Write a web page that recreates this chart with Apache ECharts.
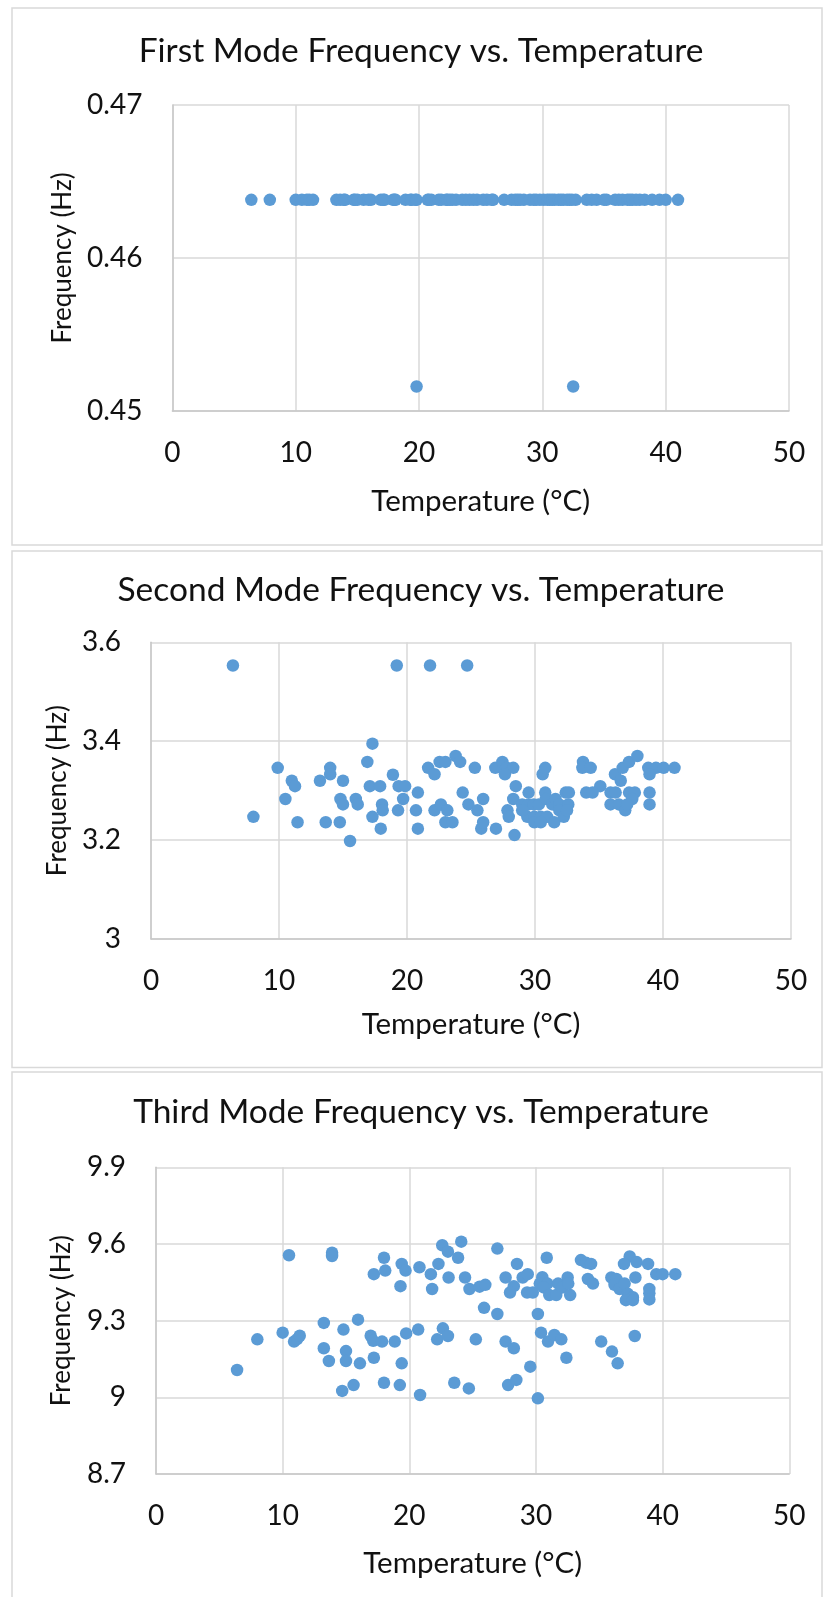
<!DOCTYPE html>
<html>
<head>
<meta charset="utf-8">
<title>Mode Frequency vs. Temperature</title>
<script src="https://cdn.jsdelivr.net/npm/echarts@6/dist/echarts.min.js"></script>
<style>
  html, body { margin: 0; padding: 0; background: #ffffff; }
  #main { width: 824px; height: 1597px; }
</style>
</head>
<body>
<div id="main"></div>
<script>
// Panel titles and axis names
const panelTitles = [
  'First Mode Frequency vs. Temperature',
  'Second Mode Frequency vs. Temperature',
  'Third Mode Frequency vs. Temperature'
];
const xAxisName = 'Temperature (°C)';
const yAxisName = 'Frequency (Hz)';

// Temperature axis (shared by all panels)
const tempRange = { min: 0, max: 50, interval: 10 };
// Frequency axes, one per mode
const freqRanges = [
  { min: 0.45, max: 0.47, interval: 0.01 },
  { min: 3.0, max: 3.6, interval: 0.2 },
  { min: 8.7, max: 9.9, interval: 0.3 }
];

// First mode: [temperature °C, frequency Hz]
const mode1Points = [
  [6.4, 0.4638], [7.9, 0.4638], [10.0, 0.4638], [10.5, 0.4638], [10.9, 0.4638],
  [11.1, 0.4638], [11.4, 0.4638], [13.3, 0.4638], [13.6, 0.4638], [13.9, 0.4638],
  [14.0, 0.4638], [14.7, 0.4638], [14.8, 0.4638], [15.0, 0.4638], [15.5, 0.4638],
  [15.9, 0.4638], [16.1, 0.4638], [16.9, 0.4638], [17.1, 0.4638], [17.2, 0.4638],
  [17.9, 0.4638], [18.0, 0.4638], [18.1, 0.4638], [18.9, 0.4638], [19.3, 0.4638],
  [19.4, 0.4638], [19.7, 0.4638], [19.8, 0.4638], [20.7, 0.4638], [20.8, 0.4638],
  [21.0, 0.4638], [21.6, 0.4638], [21.8, 0.4638], [22.2, 0.4638], [22.3, 0.4638],
  [22.5, 0.4638], [22.7, 0.4638], [23.0, 0.4638], [23.5, 0.4638], [23.8, 0.4638],
  [24.1, 0.4638], [24.4, 0.4638], [24.7, 0.4638], [25.2, 0.4638], [25.5, 0.4638],
  [25.9, 0.4638], [26.0, 0.4638], [26.9, 0.4638], [27.5, 0.4638], [27.8, 0.4638],
  [28.0, 0.4638], [28.2, 0.4638], [28.5, 0.4638], [29.0, 0.4638], [29.3, 0.4638],
  [29.5, 0.4638], [29.8, 0.4638], [30.1, 0.4638], [30.4, 0.4638], [30.6, 0.4638],
  [30.8, 0.4638], [31.0, 0.4638], [31.3, 0.4638], [31.5, 0.4638], [31.7, 0.4638],
  [32.0, 0.4638], [32.2, 0.4638], [32.4, 0.4638], [32.7, 0.4638], [33.6, 0.4638],
  [34.0, 0.4638], [34.4, 0.4638], [35.0, 0.4638], [35.2, 0.4638], [35.9, 0.4638],
  [36.2, 0.4638], [36.5, 0.4638], [36.9, 0.4638], [37.1, 0.4638], [37.3, 0.4638],
  [37.6, 0.4638], [37.9, 0.4638], [38.3, 0.4638], [38.9, 0.4638], [39.5, 0.4638],
  [40.0, 0.4638], [41.0, 0.4638],
  [19.8, 0.4516], [32.5, 0.4516]
];

// Second mode: [temperature °C, frequency Hz]
const mode2Points = [
  [6.4, 3.553], [19.2, 3.553], [21.8, 3.553], [24.7, 3.553],
  [17.3, 3.395], [16.9, 3.358], [9.9, 3.346], [14.0, 3.346], [11.0, 3.320],
  [11.25, 3.309], [13.2, 3.320], [14.0, 3.333], [15.0, 3.320], [18.9, 3.332],
  [17.1, 3.309], [17.9, 3.309], [19.35, 3.309], [19.85, 3.309], [20.85, 3.296],
  [19.7, 3.283], [21.65, 3.346], [22.15, 3.333], [10.5, 3.283], [14.8, 3.283],
  [15.0, 3.272], [16.0, 3.283], [16.15, 3.272], [18.05, 3.272], [18.1, 3.260],
  [19.3, 3.260], [20.7, 3.260], [22.15, 3.260], [8.0, 3.247], [17.3, 3.247],
  [11.45, 3.236], [13.65, 3.236], [14.75, 3.236], [17.95, 3.223], [20.85, 3.223],
  [15.55, 3.198],
  [22.55, 3.358], [23.0, 3.358], [23.8, 3.370], [24.15, 3.358], [25.3, 3.346],
  [26.9, 3.346], [27.45, 3.358], [27.8, 3.346], [28.3, 3.346], [27.65, 3.333],
  [28.5, 3.309], [30.6, 3.333], [30.8, 3.346], [33.75, 3.358], [33.7, 3.346],
  [34.35, 3.346], [35.1, 3.309], [34.0, 3.296], [34.5, 3.296], [36.25, 3.333],
  [36.7, 3.320], [36.85, 3.346], [37.35, 3.358], [38.0, 3.370], [38.85, 3.346],
  [39.45, 3.346], [40.05, 3.346], [40.9, 3.346], [38.95, 3.333], [38.95, 3.296],
  [38.95, 3.272], [35.9, 3.296], [36.3, 3.296], [35.9, 3.272], [36.55, 3.272],
  [37.05, 3.260], [37.35, 3.296], [37.8, 3.296], [37.6, 3.283], [37.2, 3.272],
  [24.35, 3.296], [24.8, 3.272], [25.5, 3.260], [25.95, 3.283], [22.65, 3.272],
  [23.15, 3.260], [23.0, 3.236], [23.55, 3.236], [25.8, 3.223], [25.95, 3.236],
  [26.95, 3.223], [27.85, 3.260], [27.95, 3.247], [28.4, 3.210], [28.3, 3.283],
  [29.0, 3.272], [29.5, 3.296], [29.5, 3.272], [29.9, 3.272], [30.3, 3.272],
  [29.4, 3.247], [29.95, 3.247], [30.45, 3.247], [30.95, 3.247], [29.95, 3.236],
  [30.45, 3.236], [30.8, 3.296], [30.85, 3.283], [31.35, 3.272], [31.6, 3.283],
  [31.9, 3.272], [31.5, 3.236], [31.9, 3.260], [32.25, 3.247], [32.4, 3.296],
  [32.65, 3.296], [32.6, 3.272], [32.5, 3.260], [29.0, 3.260]
];

// Third mode: [temperature °C, frequency Hz]
const mode3Points = [
  [10.5, 9.556], [13.9, 9.566], [13.9, 9.553], [18.0, 9.546], [17.2, 9.482],
  [18.1, 9.496], [19.4, 9.522], [19.7, 9.496], [19.3, 9.435], [20.8, 9.509],
  [21.7, 9.482], [21.8, 9.424], [22.3, 9.522], [22.6, 9.595], [23.05, 9.570],
  [24.1, 9.609], [23.85, 9.546], [23.1, 9.469], [24.4, 9.469], [24.75, 9.424],
  [25.55, 9.433], [26.0, 9.440], [25.9, 9.350], [26.95, 9.582], [26.95, 9.326],
  [27.6, 9.469], [28.5, 9.522], [28.25, 9.435], [27.95, 9.410], [28.95, 9.469],
  [29.35, 9.482], [29.3, 9.410], [29.75, 9.410], [30.15, 9.326], [30.85, 9.546],
  [30.5, 9.470], [30.3, 9.445], [30.9, 9.445], [30.6, 9.430], [31.05, 9.400],
  [31.6, 9.400], [31.75, 9.445], [32.1, 9.430], [32.5, 9.469], [32.7, 9.400],
  [32.55, 9.445], [33.55, 9.537], [33.95, 9.527], [34.35, 9.522], [34.1, 9.463],
  [34.5, 9.445], [35.95, 9.469], [36.35, 9.463], [36.2, 9.440], [36.6, 9.424],
  [37.0, 9.445], [37.25, 9.405], [37.65, 9.392], [37.1, 9.380], [37.65, 9.380],
  [37.4, 9.551], [37.95, 9.529], [36.95, 9.522], [37.85, 9.469], [38.85, 9.522],
  [38.95, 9.424], [38.95, 9.407], [38.95, 9.383], [39.5, 9.482], [40.0, 9.482],
  [41.0, 9.482],
  [6.4, 9.107], [8.0, 9.227], [10.0, 9.253], [10.9, 9.218], [11.15, 9.228],
  [11.35, 9.241], [13.25, 9.291], [13.25, 9.192], [14.8, 9.265], [15.95, 9.304],
  [13.65, 9.142], [15.0, 9.181], [15.0, 9.142], [16.1, 9.133], [16.95, 9.241],
  [17.15, 9.221], [17.85, 9.218], [18.85, 9.218], [19.75, 9.250], [20.7, 9.265],
  [22.2, 9.227], [17.2, 9.155], [19.4, 9.133], [14.7, 9.025], [15.6, 9.048],
  [18.0, 9.057], [19.25, 9.048], [20.85, 9.009], [30.4, 9.253], [30.95, 9.218],
  [31.45, 9.244], [32.0, 9.227], [32.4, 9.155], [22.65, 9.270], [23.05, 9.240],
  [25.25, 9.227], [27.6, 9.218], [28.25, 9.192], [29.55, 9.120], [35.15, 9.218],
  [36.0, 9.179], [36.45, 9.133], [37.8, 9.240], [23.55, 9.057], [24.7, 9.035],
  [27.8, 9.048], [28.45, 9.068], [30.15, 8.996]
];

const FONT = 'Lato, "Open Sans", "Liberation Sans", sans-serif';
const TEXT = '#111111';
const GRID_LINE = '#d9d9d9';
const AXIS_LINE = '#c8c8c8';
const MARK = '#5b9bd5';

// Panel geometry in pixels
const panels = [
  { frame: [12, 8, 810, 537],    grid: { left: 172.4, top: 105,    width: 616.6, height: 306 },   titleY: 51,   xNameGap: 75, yNameGap: 97 },
  { frame: [12, 551, 810, 516.5], grid: { left: 151,  top: 642.3,  width: 640,   height: 296.6 }, titleY: 590,  xNameGap: 71, yNameGap: 78 },
  { frame: [12, 1072, 810, 530], grid: { left: 156,   top: 1167.3, width: 633.3, height: 306.7 }, titleY: 1112, xNameGap: 74, yNameGap: 81 }
];
const pointSets = [mode1Points, mode2Points, mode3Points];

const chart = echarts.init(document.getElementById('main'), null, { renderer: 'canvas', width: 824, height: 1597 });

const graphics = [];
panels.forEach((p, i) => {
  graphics.push({
    type: 'rect', silent: true, z: -10,
    shape: { x: p.frame[0], y: p.frame[1], width: p.frame[2], height: p.frame[3] },
    style: { fill: '#ffffff', stroke: GRID_LINE, lineWidth: 1.5 }
  });
  graphics.push({
    type: 'text', silent: true,
    x: 421, y: p.titleY,
    style: { text: panelTitles[i], align: 'center', verticalAlign: 'middle',
             font: '33.5px ' + FONT, fill: TEXT }
  });
});

const option = {
  backgroundColor: '#ffffff',
  animation: false,
  graphic: graphics,
  grid: panels.map(p => Object.assign({ containLabel: false }, p.grid)),
  xAxis: panels.map((p, i) => ({
    type: 'value', gridIndex: i,
    min: tempRange.min, max: tempRange.max, interval: tempRange.interval,
    name: xAxisName, nameLocation: 'middle', nameGap: p.xNameGap,
    nameTextStyle: { fontFamily: FONT, fontSize: 29.5, color: TEXT },
    axisLine: { show: true, lineStyle: { color: AXIS_LINE, width: 1.5 } },
    axisTick: { show: false },
    axisLabel: { fontFamily: FONT, fontSize: 28, color: TEXT, margin: 28 },
    splitLine: { show: true, lineStyle: { color: GRID_LINE, width: 1.5 } }
  })),
  yAxis: panels.map((p, i) => ({
    type: 'value', gridIndex: i,
    min: freqRanges[i].min, max: freqRanges[i].max, interval: freqRanges[i].interval,
    name: yAxisName, nameLocation: 'middle', nameGap: p.yNameGap, nameRotate: 90,
    nameTextStyle: { fontFamily: FONT, fontSize: 26, color: TEXT },
    axisLine: { show: true, lineStyle: { color: AXIS_LINE, width: 1.5 } },
    axisTick: { show: false },
    axisLabel: { fontFamily: FONT, fontSize: 28, color: TEXT, margin: 30 },
    splitLine: { show: true, lineStyle: { color: GRID_LINE, width: 1.5 } }
  })),
  series: pointSets.map((pts, i) => ({
    type: 'scatter', xAxisIndex: i, yAxisIndex: i,
    data: pts, symbol: 'circle', symbolSize: 12.5,
    itemStyle: { color: MARK, opacity: 1 }
  }))
};
chart.setOption(option);
</script>
</body>
</html>
